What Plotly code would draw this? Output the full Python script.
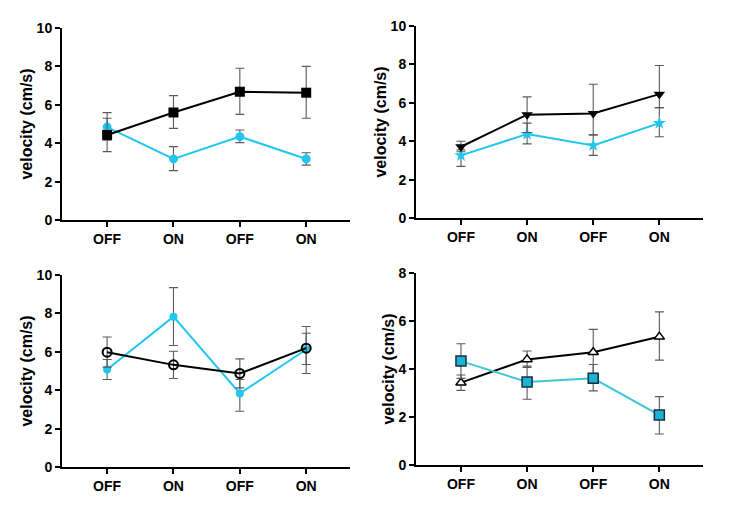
import plotly.graph_objects as go

cat_labels = ["OFF", "ON", "OFF", "ON"]

# Panel 1
p1_black = [4.43, 5.6, 6.68, 6.63]
p1_black_hi = [5.3, 6.48, 7.9, 8.0]
p1_black_lo = [3.56, 4.77, 5.5, 5.3]
p1_cyan = [4.84, 3.18, 4.34, 3.18]
p1_cyan_hi = [5.59, 3.82, 4.69, 3.5]
p1_cyan_lo = [4.15, 2.57, 4.03, 2.86]

# Panel 2
p2_black = [3.71, 5.38, 5.44, 6.45]
p2_black_hi = [4.0, 6.31, 6.97, 7.94]
p2_black_lo = [3.45, 4.45, 4.33, 5.75]
p2_cyan = [3.26, 4.37, 3.78, 4.94]
p2_cyan_hi = [3.55, 4.94, 4.33, 5.75]
p2_cyan_lo = [2.69, 3.86, 3.26, 4.23]

# Panel 3
p3_black = [5.98, 5.32, 4.87, 6.19]
p3_black_hi = [6.77, 6.03, 5.63, 6.97]
p3_black_lo = [5.2, 4.61, 4.12, 5.34]
p3_cyan = [5.08, 7.83, 3.83, 6.12]
p3_cyan_hi = [5.6, 9.34, 4.56, 7.32]
p3_cyan_lo = [4.56, 6.33, 2.9, 4.87]

# Panel 4
p4_black = [3.43, 4.4, 4.7, 5.34]
p4_black_hi = [3.75, 4.75, 5.65, 6.38]
p4_black_lo = [3.11, 4.06, 3.78, 4.37]
p4_cyan = [4.33, 3.46, 3.61, 2.08]
p4_cyan_hi = [5.05, 4.12, 4.19, 2.85]
p4_cyan_lo = [3.61, 2.74, 3.09, 1.29]

y_title = "velocity (cm/s)"
CYAN = "#20c6ef"
BLACK = "#000000"
ERR = "#5a5a5a"

xs = [0, 1, 2, 3]

fig = go.Figure()


def err(v, hi, lo):
    return dict(type="data", symmetric=False,
                array=[h - x for h, x in zip(hi, v)],
                arrayminus=[x - l for l, x in zip(lo, v)],
                color=ERR, thickness=1.1, width=4.5)


def add(ax, v, hi, lo, lcolor, symbol, size, fill, mline, mwidth):
    fig.add_trace(go.Scatter(
        x=xs, y=v, mode="lines+markers",
        xaxis="x" + ax, yaxis="y" + ax,
        line=dict(color=lcolor, width=2),
        marker=dict(symbol=symbol, size=size, color=fill,
                    line=dict(color=mline, width=mwidth)),
        error_y=err(v, hi, lo), showlegend=False, cliponaxis=False))


add("", p1_cyan, p1_cyan_hi, p1_cyan_lo, CYAN, "circle", 9, CYAN, CYAN, 0)
add("", p1_black, p1_black_hi, p1_black_lo, BLACK, "square", 10, BLACK, BLACK, 0)

add("2", p2_cyan, p2_cyan_hi, p2_cyan_lo, CYAN, "star", 10, CYAN, CYAN, 0)
add("2", p2_black, p2_black_hi, p2_black_lo, BLACK, "triangle-down", 10, BLACK, BLACK, 0)

add("3", p3_cyan, p3_cyan_hi, p3_cyan_lo, CYAN, "circle", 8, CYAN, CYAN, 0)
add("3", p3_black, p3_black_hi, p3_black_lo, BLACK, "circle-open", 9, BLACK, BLACK, 2)

add("4", p4_black, p4_black_hi, p4_black_lo, BLACK, "triangle-up", 9, "#ffffff", BLACK, 1.5)
add("4", p4_cyan, p4_cyan_hi, p4_cyan_lo, "#3cc6d6", "square", 10, "#1ab2d6", "#14303c", 1.5)

FAM = "Liberation Sans, Arial, sans-serif"
TICKFONT = dict(family=FAM, size=14, color="#000")

common_x = dict(range=[-0.68, 3.66], tickmode="array", tickvals=xs,
                ticktext=["<b>" + c + "</b>" for c in cat_labels],
                showline=True, linecolor="#000", linewidth=2, ticks="outside",
                ticklen=5, tickwidth=2, tickcolor="#000", showgrid=False,
                zeroline=False, tickfont=TICKFONT, automargin=False)
common_y = dict(showline=True, linecolor="#000", linewidth=2, ticks="outside",
                ticklen=5, tickwidth=2, tickcolor="#000", showgrid=False,
                zeroline=False, dtick=2, tickfont=TICKFONT, automargin=False,
                tickprefix="<b>", ticksuffix="</b>",
                title=dict(text="<b>" + y_title + "</b>",
                           font=dict(family=FAM, size=16, color="#000"),
                           standoff=0))

W, H = 748, 512
OFF = 8  # page body margin compensation


def dx(a, b):
    return [(a - OFF) / W, (b - OFF) / W]


def dy(top, bot):
    return [1 - (bot - OFF) / H, 1 - (top - OFF) / H]


lay = dict(width=W, height=H, margin=dict(l=0, r=0, t=0, b=0),
           paper_bgcolor="#fff", plot_bgcolor="#fff",
           font=dict(family=FAM, size=14, color="#000"))

lay["xaxis"] = dict(common_x, domain=dx(62, 350), anchor="y")
lay["yaxis"] = dict(common_y, domain=dy(28, 220), range=[0, 10], anchor="x")
lay["xaxis2"] = dict(common_x, domain=dx(416, 703), anchor="y2")
lay["yaxis2"] = dict(common_y, domain=dy(26, 218), range=[0, 10], anchor="x2")
lay["xaxis3"] = dict(common_x, domain=dx(62, 350), anchor="y3")
lay["yaxis3"] = dict(common_y, domain=dy(275, 467), range=[0, 10], anchor="x3")
lay["xaxis4"] = dict(common_x, domain=dx(416, 703), anchor="y4")
lay["yaxis4"] = dict(common_y, domain=dy(273, 465), range=[0, 8], anchor="x4")

fig.update_layout(**lay)

fig.write_html("out.html")
